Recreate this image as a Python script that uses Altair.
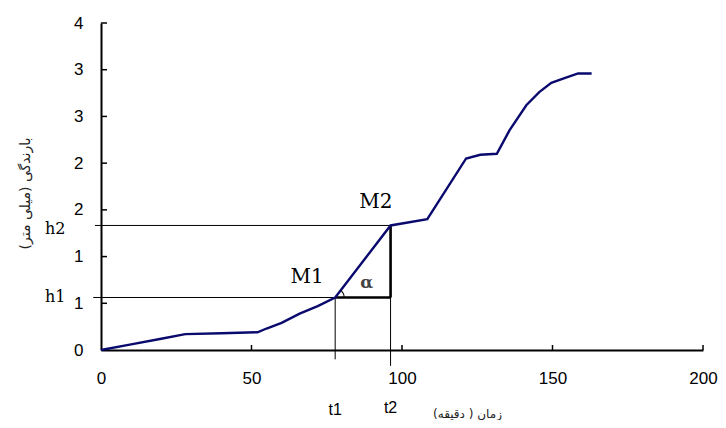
import altair as alt
import pandas as pd

# ---- data ----
time_min = [0, 10, 20, 28, 40, 52, 55, 60, 66, 72, 77.8, 96.2, 108.4, 121.3, 126, 131.5,
            135.7, 141.3, 145.6, 149.6, 154, 158.5, 163]
rain_mm = [0, 0.06, 0.12, 0.17, 0.18, 0.19, 0.23, 0.29, 0.39, 0.47, 0.562, 1.333, 1.40, 2.05,
           2.09, 2.10, 2.35, 2.62, 2.76, 2.86, 2.91, 2.96, 2.96]

t1, t2 = 77.8, 96.2
h1, h2 = 0.562, 1.333

x_ticks = [0, 50, 100, 150, 200]
y_ticks = [0, 0.5, 1, 1.5, 2, 2.5, 3, 3.5]

x_title = "زمان ( دقیقه)"
y_title = "بارندگی (میلی متر)"

W, H = 602, 327

curve = pd.DataFrame({"t": time_min, "v": rain_mm})

thin = pd.DataFrame({
    "t": [-2.6, -2.0, t1, t2],
    "t2": [t2, t2, t1, t2],
    "v": [h1, h2, -0.10, -0.17],
    "v2": [h1, h2, h1, h2],
})
thick = pd.DataFrame({
    "t": [t1, t2],
    "t2": [t2, t2],
    "v": [h1, h1],
    "v2": [h1, h2],
})
h_lbl = pd.DataFrame({"t": [-15.2, -15.2], "v": [h1, h2 - 0.04], "label": ["h1", "h2"]})
m_lbl = pd.DataFrame({"t": [68.5, 91.3], "v": [0.776, 1.58], "label": ["M1", "M2"]})
alpha_lbl = pd.DataFrame({"t": [88.3], "v": [0.72], "label": ["α"]})
t_lbl = pd.DataFrame({"t": [t1, t2], "v": [-0.64, -0.62], "label": ["t1", "t2"]})
m1 = pd.DataFrame({"t": [t1], "v": [h1]})
xt = pd.DataFrame({"t": x_ticks[1:]})
yt = pd.DataFrame({"v": y_ticks[1:]})

xscale = alt.Scale(domain=[0, 200], nice=False, zero=False)
yscale = alt.Scale(domain=[0, 3.5], nice=False, zero=False)

xaxis = alt.Axis(values=x_ticks, ticks=False, grid=False, domainColor="black", domainWidth=2,
                 labelFont="Liberation Sans", labelFontSize=17, labelColor="black",
                 labelPadding=20, labelFlush=False, labelOverlap=False,
                 title=x_title, titleFont="DejaVu Sans", titleFontSize=12,
                 titleFontWeight="normal", titleColor="#222222",
                 titleX=366, titleY=63, titleAlign="center", titleBaseline="middle")
yaxis = alt.Axis(values=y_ticks, ticks=False, grid=False, domainColor="black", domainWidth=2,
                 labelFont="Liberation Sans", labelFontSize=17, labelColor="black",
                 labelPadding=18, labelFlush=False, labelOverlap=False,
                 labelExpr="'' + round(datum.value)",
                 title=y_title, titleFont="DejaVu Sans", titleFontSize=14,
                 titleFontWeight="normal", titleColor="#222222", titleAngle=270,
                 titleX=-76, titleY=170, titleAlign="center", titleBaseline="middle")


def X(field="t"):
    return alt.X(f"{field}:Q", scale=xscale, axis=xaxis)


def Y(field="v"):
    return alt.Y(f"{field}:Q", scale=yscale, axis=yaxis)


line = alt.Chart(curve).mark_line(color="#0a0a6e", strokeWidth=2.4, clip=False).encode(
    x=X(), y=Y(),
)

thin_rules = alt.Chart(thin).mark_rule(color="black", strokeWidth=1, clip=False).encode(
    x=X(), x2="t2:Q", y=Y(), y2="v2:Q",
)
thick_rules = alt.Chart(thick).mark_rule(color="black", strokeWidth=2.6, clip=False).encode(
    x=X(), x2="t2:Q", y=Y(), y2="v2:Q",
)

x_tick_rules = alt.Chart(xt).mark_rule(color="black", strokeWidth=1.5).encode(
    x=X(), y=alt.value(H), y2=alt.value(H - 5),
)
y_tick_rules = alt.Chart(yt).mark_rule(color="black", strokeWidth=1.5).encode(
    y=Y(), x=alt.value(0), x2=alt.value(6),
)

h_text = alt.Chart(h_lbl).mark_text(font="DejaVu Serif", fontSize=16, color="black",
                                    clip=False).encode(x=X(), y=Y(), text="label:N")
m_text = alt.Chart(m_lbl).mark_text(font="DejaVu Serif", fontSize=20, color="black",
                                    clip=False).encode(x=X(), y=Y(), text="label:N")
alpha_text = alt.Chart(alpha_lbl).mark_text(font="DejaVu Serif", fontSize=17, color="#444444",
                                            fontWeight="bold", clip=False).encode(
    x=X(), y=Y(), text="label:N")
t_text = alt.Chart(t_lbl).mark_text(font="Liberation Sans", fontSize=16, color="black",
                                    clip=False).encode(x=X(), y=Y(), text="label:N")
angle_arc = alt.Chart(m1).mark_arc(radius=9.5, radius2=8.5, theta=0.663, theta2=1.571,
                                   color="black", clip=False).encode(x=X(), y=Y())

chart = alt.layer(
    thin_rules, thick_rules, line, x_tick_rules, y_tick_rules,
    h_text, m_text, alpha_text, t_text, angle_arc,
).properties(
    width=W, height=H,
    autosize=alt.AutoSizeParams(type="none"),
    padding={"left": 93, "top": 15, "right": 15, "bottom": 70},
    background="white",
).configure_view(stroke=None)

chart.save("out.html", embed_options={"renderer": "svg", "actions": False})
